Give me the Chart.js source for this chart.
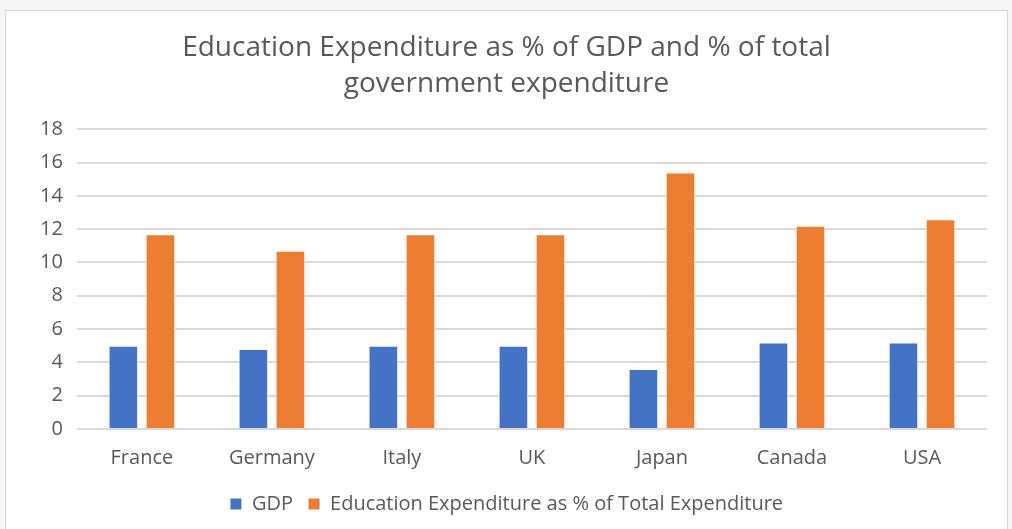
<!DOCTYPE html>
<html>
<head>
<meta charset="utf-8">
<script src="https://cdn.jsdelivr.net/npm/chart.js@4.4.1/dist/chart.umd.min.js"></script>
<style>
  html, body { margin: 0; padding: 0; background: #f6f6f6; width: 1012px; height: 529px; overflow: hidden; }
  #wrap {
    position: absolute; left: 5px; top: 10px; width: 1003px; height: 525px;
    background: #ffffff; border: 1px solid #d4d4d4; box-sizing: border-box;
  }
</style>
</head>
<body>
<div id="wrap"><canvas id="eduChart"></canvas></div>
<script>
// Education spending by country
const countries = ['France', 'Germany', 'Italy', 'UK', 'Japan', 'Canada', 'USA']
const gdpShare = [5.0, 4.8, 5.0, 5.0, 3.6, 5.2, 5.2]
const totalShare = [11.7, 10.7, 11.7, 11.7, 15.4, 12.2, 12.6]
const yTicks = [0, 2, 4, 6, 8, 10, 12, 14, 16, 18]

const textColor = '#595959'
const fontFamily = '"Open Sans", "Noto Sans", sans-serif'

document.addEventListener('DOMContentLoaded', function() {
  const ctx = document.getElementById('eduChart').getContext('2d')

  new Chart(ctx, {
    type: 'bar',
    data: {
      labels: countries,
      datasets: [{
        label: 'GDP',
        data: gdpShare,
        backgroundColor: '#4472c4',
        borderColor: '#ffffff',
        borderWidth: 1,
        barPercentage: 0.8,
        categoryPercentage: 0.57
      }, {
        label: 'Education Expenditure as % of Total Expenditure',
        data: totalShare,
        backgroundColor: '#ed7d31',
        borderColor: '#ffffff',
        borderWidth: 1,
        barPercentage: 0.8,
        categoryPercentage: 0.57
      }]
    },
    options: {
      responsive: true,
      maintainAspectRatio: false,
      animation: false,
      layout: { padding: { left: 20, right: 20, top: 4, bottom: 10 } },
      plugins: {
        title: {
          display: true,
          text: ['Education Expenditure as % of GDP and % of total', 'government expenditure'],
          color: textColor,
          font: { family: fontFamily, size: 28, weight: 'normal', lineHeight: 1.29 },
          padding: { top: 15, bottom: 27 }
        },
        legend: {
          position: 'bottom',
          labels: {
            color: textColor,
            font: { family: fontFamily, size: 20 },
            boxWidth: 12,
            boxHeight: 12,
            padding: 15
          }
        },
        tooltip: { enabled: false }
      },
      scales: {
        x: {
          grid: { display: false },
          border: { display: false },
          ticks: { color: textColor, font: { family: fontFamily, size: 20 }, padding: 9 }
        },
        y: {
          min: 0,
          max: 18,
          afterBuildTicks: axis => { axis.ticks = yTicks.map(v => ({ value: v })) },
          grid: { color: '#d9d9d9', lineWidth: 2, drawTicks: false },
          border: { display: false },
          ticks: { color: textColor, font: { family: fontFamily, size: 20 }, padding: 14 }
        }
      }
    }
  })
})
</script>
</body>
</html>
